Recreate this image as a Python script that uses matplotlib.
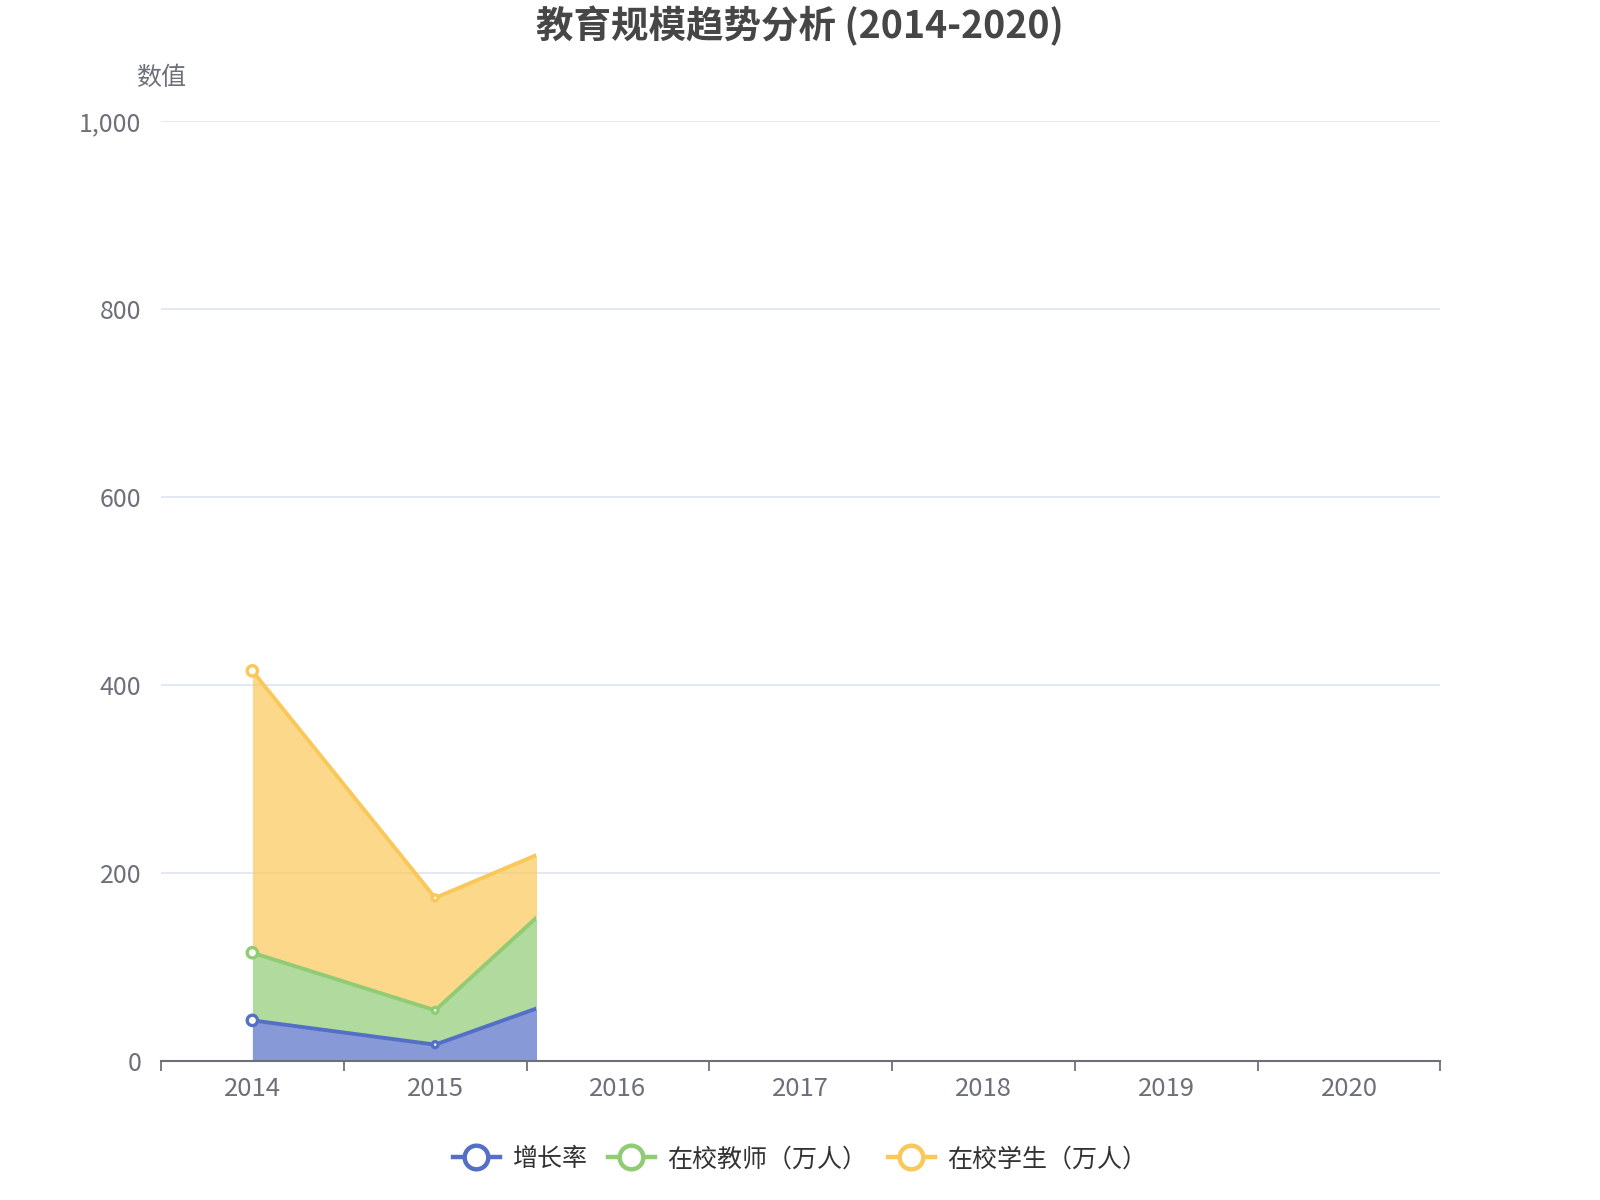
import numpy as np
import matplotlib
matplotlib.use("Agg")
from matplotlib import pyplot as plt
from matplotlib.patches import Rectangle
from matplotlib.ticker import FuncFormatter, FixedLocator

plt.rcParams['font.family'] = ['Noto Sans CJK SC', 'DejaVu Sans']

# data (2017-2020 have nothing drawn)
years = ['2014', '2015', '2016', '2017', '2018', '2019', '2020']
growth_rate = [43, 17.2, 86.6, np.nan, np.nan, np.nan, np.nan]
teachers = [72, 36.5, 145, np.nan, np.nan, np.nan, np.nan]
students = [300, 119.7, 24, np.nan, np.nan, np.nan, np.nan]
series_names = ['增长率', '在校教师（万人）', '在校学生（万人）']

colors = ['#5470C6', '#91CC75', '#FAC858']
# the chart was captured mid-animation: drawing stops part way to 2016
reveal_x = 1.55

fig = plt.figure(figsize=(16, 12), dpi=100)
ax = fig.add_axes([0.1006, 0.116, 0.7997, 0.783])

x = np.arange(len(years))
stack = np.nancumsum(np.vstack([growth_rate, teachers, students]), axis=0)
valid = ~np.isnan(np.array(growth_rate))
xs = x[valid]

clip = Rectangle((-0.5, 0), reveal_x + 0.5, 1000, transform=ax.transData)

lower = np.zeros(valid.sum())
for i in range(3):
    upper = stack[i][valid]
    f = ax.fill_between(xs, lower, upper, color=colors[i], alpha=0.7, lw=0, zorder=2)
    f.set_clip_path(clip)
    ln, = ax.plot(xs, upper, color=colors[i], lw=2.8, zorder=3, solid_joinstyle='round')
    ln.set_clip_path(clip)
    # markers: only the points already revealed, smaller at 2015 (animation)
    shown = xs <= reveal_x
    ax.scatter(xs[shown], upper[shown], s=[55, 18][:shown.sum()], facecolor='white',
               edgecolor=colors[i], linewidths=2.4, zorder=4)
    lower = upper

ax.set_xlim(-0.5, len(years) - 0.5)
ax.set_ylim(0, 1000)
ax.set_xticks(x)
ax.set_xticklabels(years)
ax.xaxis.set_minor_locator(FixedLocator(np.arange(-0.5, len(years), 1.0)))
ax.tick_params(axis='x', which='major', length=0, pad=11, labelsize=18.5, labelcolor='#6E7079')
ax.tick_params(axis='x', which='minor', length=7, width=1.3, color='#6E7079')
ax.set_yticks(np.arange(0, 1001, 200))
ax.yaxis.set_major_formatter(FuncFormatter(lambda v, p: f'{int(v):,}'))
ax.tick_params(axis='y', length=0, pad=14, labelsize=18, labelcolor='#6E7079')
ax.grid(axis='y', color='#E0E6F1', lw=1.3, zorder=0)
ax.set_axisbelow(True)
for s in ['top', 'right', 'left']:
    ax.spines[s].set_visible(False)
ax.spines['bottom'].set_color('#6E7079')
ax.spines['bottom'].set_linewidth(1.5)

ax.text(0, 1.046, '数值', transform=ax.transAxes, ha='center', va='center',
        fontsize=18, color='#6E7079')

fig.suptitle('教育规模趋势分析 (2014-2020)', x=0.5, y=0.995, fontsize=27,
             fontweight='bold', color='#464646')

handles = [plt.Line2D([], [], color=c, lw=3.2, marker='o', markersize=17,
                      markerfacecolor='white', markeredgewidth=3.2) for c in colors]
fig.legend(handles, series_names, loc='center', bbox_to_anchor=(0.5, 0.034), ncol=3,
           frameon=False, fontsize=18, handlelength=1.9, columnspacing=0.8,
           handletextpad=0.5, labelcolor='#333333')

plt.savefig('out.png', dpi=100)
